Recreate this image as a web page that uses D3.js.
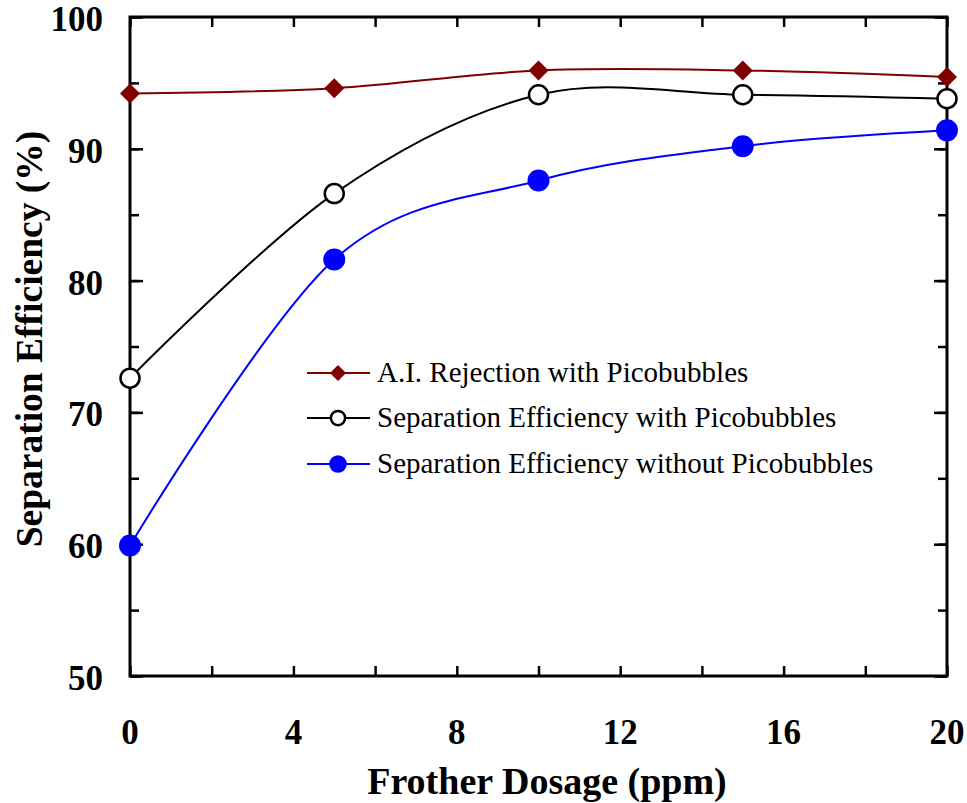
<!DOCTYPE html>
<html><head><meta charset="utf-8">
<script src="https://d3js.org/d3.v7.min.js"></script>
<style>body{margin:0;background:#fff}</style>
</head><body>
<script>
const dosage = [0, 5, 10, 15, 20];
const aiRejection = [94.2, 94.6, 95.95, 95.95, 95.45];
const sepWithPico = [72.6, 86.6, 94.1, 94.1, 93.8];
const sepWithoutPico = [59.9, 81.6, 87.6, 90.2, 91.4];
const xTicks = [0, 4, 8, 12, 16, 20];
const yTicks = [50, 60, 70, 80, 90, 100];
const seriesNames = ["A.I. Rejection with Picobubbles", "Separation Efficiency with Picobubbles", "Separation Efficiency without Picobubbles"];

const W = 967, H = 803;
const m = {l:130, r:20, t:17, b:127};
const svg = d3.select("body").append("svg").attr("width", W).attr("height", H);
const x = d3.scaleLinear().domain([0,20]).range([m.l, W-m.r]);
const y = d3.scaleLinear().domain([50,100]).range([H-m.b, m.t]);
const font = "'Liberation Serif','Times New Roman',serif";

const g = svg.append("g");
g.append("rect").attr("x", x(0)).attr("y", y(100)).attr("width", x(20)-x(0)).attr("height", y(50)-y(100))
 .attr("fill","none").attr("stroke","#000").attr("stroke-width",3);

const xMinor = d3.range(0, 21, 2);
const yMinor = d3.range(50, 101, 5);
function tickAxis(axis, tr){ const a = g.append("g").attr("transform", tr).call(axis); a.select(".domain").remove(); a.selectAll("text").remove(); a.selectAll("line").attr("stroke","#000").attr("stroke-width",2.5); }
tickAxis(d3.axisBottom(x).tickValues(xMinor).tickSize(-10), `translate(0,${y(50)})`);
tickAxis(d3.axisTop(x).tickValues(xMinor).tickSize(-10), `translate(0,${y(100)})`);
tickAxis(d3.axisLeft(y).tickValues(yMinor).tickSize(-9), `translate(${x(0)},0)`);
tickAxis(d3.axisRight(y).tickValues(yMinor).tickSize(-9), `translate(${x(20)},0)`);
tickAxis(d3.axisLeft(y).tickValues(yTicks).tickSize(-13), `translate(${x(0)},0)`);
tickAxis(d3.axisRight(y).tickValues(yTicks).tickSize(-13), `translate(${x(20)},0)`);

g.selectAll(".xl").data(xTicks).join("text").attr("x", d=>x(d)).attr("y", 744)
 .attr("text-anchor","middle").attr("font-family",font).attr("font-weight","bold").attr("font-size",35).text(d=>d);
g.selectAll(".yl").data(yTicks).join("text").attr("x", 103).attr("y", d=>y(d)+14)
 .attr("text-anchor","end").attr("font-family",font).attr("font-weight","bold").attr("font-size",35).text(d=>d);

svg.append("text").attr("x", 547).attr("y", 794).attr("text-anchor","middle")
 .attr("font-family",font).attr("font-weight","bold").attr("font-size",38).text("Frother Dosage (ppm)");
svg.append("text").attr("transform", `translate(42,339) rotate(-90)`).attr("text-anchor","middle")
 .attr("font-family",font).attr("font-weight","bold").attr("font-size",37.5).text("Separation Efficiency (%)");

const line = d3.line().x(d=>x(d[0])).y(d=>y(d[1])).curve(d3.curveCardinal.tension(0));
const series = [
 {vals: aiRejection, color:"#800000", marker:"diamond"},
 {vals: sepWithPico, color:"#000000", marker:"open"},
 {vals: sepWithoutPico, color:"#0000ff", marker:"filled"}
];
function drawMarker(sel, type, color, cx, cy, s){
  if(type==="diamond"){
    const r = 10*s;
    sel.append("path").attr("d", `M${cx},${cy-r}L${cx+r},${cy}L${cx},${cy+r}L${cx-r},${cy}Z`).attr("fill", color);
  } else if(type==="open"){
    sel.append("circle").attr("cx",cx).attr("cy",cy).attr("r",9.5*s).attr("fill","#fff").attr("stroke","#000").attr("stroke-width",2.5);
  } else {
    sel.append("circle").attr("cx",cx).attr("cy",cy).attr("r",11*s).attr("fill",color);
  }
}
series.forEach(s=>{
  const pts = dosage.map((d,i)=>[d, s.vals[i]]);
  g.append("path").datum(pts).attr("d", line).attr("fill","none").attr("stroke", s.color).attr("stroke-width",2);
  const mg = g.append("g");
  pts.forEach(p=>drawMarker(mg, s.marker, s.color, x(p[0]), y(p[1]), 1));
});

const lg = svg.append("g");
const ly = [373, 418, 464];
series.forEach((s,i)=>{
  lg.append("line").attr("x1",307).attr("x2",370).attr("y1",ly[i]).attr("y2",ly[i]).attr("stroke",s.color).attr("stroke-width",2);
  drawMarker(lg, s.marker, s.color, 338, ly[i], s.marker==="open"?0.75:0.8);
  lg.append("text").attr("x",377).attr("y",ly[i]+9).attr("font-family",font).attr("font-size",29).text(seriesNames[i]);
});
</script>
</body></html>
